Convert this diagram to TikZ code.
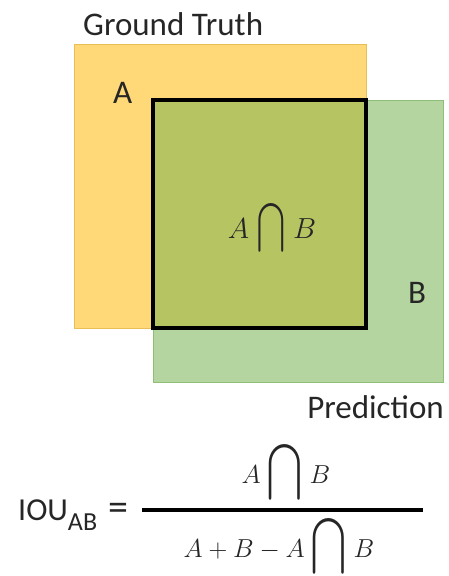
\RequirePackage{fix-cm}
\documentclass[tikz,border=0pt]{standalone}
\usepackage[no-math]{fontspec}
\setmainfont{Carlito}
\usepackage{amsmath}
\usepackage{graphicx}
\usepackage{tikz}
\usetikzlibrary{positioning}
\definecolor{gtgold}{HTML}{FFD877}
\definecolor{gtedge}{HTML}{E9BF55}
\definecolor{prgreen}{HTML}{B4D5A0}
\definecolor{predge}{HTML}{8FBE78}
\definecolor{ovolive}{HTML}{B6C462}
\newcommand{\archcap}[2]{\scalebox{#1}[#2]{$\displaystyle\bigcap$}}

\begin{document}
\begin{tikzpicture}[
  x=1pt, y=-1pt,
  lbl/.style={font=\fontsize{33}{40}\selectfont, text=black!85, inner sep=0pt},
  mathlbl/.style={font=\fontsize{29}{35}\selectfont, text=black!85, inner sep=0pt},
  eqlbl/.style={font=\fontsize{26}{31}\selectfont, text=black!85, inner sep=0pt},
  gtbox/.style={fill=gtgold, draw=gtedge, line width=1pt},
  prbox/.style={fill=prgreen, draw=predge, line width=1pt},
  ovbox/.style={fill=ovolive, draw=black, line width=4.5pt}
]
  \useasboundingbox (0,0) rectangle (449,576);
  % ground truth, prediction and their overlap
  \path[gtbox] (74,44) rectangle (366,328);
  \path[prbox] (153,100) rectangle (443,382);
  \path[ovbox] (153,100) rectangle (366,328);

  \node[lbl, anchor=base west] (gtlabel) at (83,35) {Ground Truth};
  \node[lbl, anchor=base west] (alabel) at (113,103) {A};
  \node[lbl, anchor=base west] (blabel) at (408,303) {B};
  \node[lbl, anchor=base east] (prlabel) at (444,418) {Prediction};
  \node[mathlbl, anchor=base] (inter) at (272,238)
    {$A\;\archcap{1}{1.4}\;B$};

  % IOU formula
  \node[lbl, font=\fontsize{32}{38}\selectfont, anchor=base west] (iou) at (18,520)
    {IOU\raisebox{-10pt}{\fontsize{26}{30}\selectfont AB}\hspace{11pt}{\fontsize{40}{40}\selectfont =}};
  \coordinate (barl) at (142,510);
  \coordinate (barr) at (423,510);
  \draw[line width=4pt] (barl) -- (barr);
  \node[eqlbl, anchor=base] (num) at (286,483)
    {$A\;\archcap{1.25}{1.6}\;B$};
  \node[eqlbl, anchor=base] (den) at (279,557)
    {$A+B-A\;\archcap{1.25}{1.6}\;B$};
\end{tikzpicture}
\end{document}
